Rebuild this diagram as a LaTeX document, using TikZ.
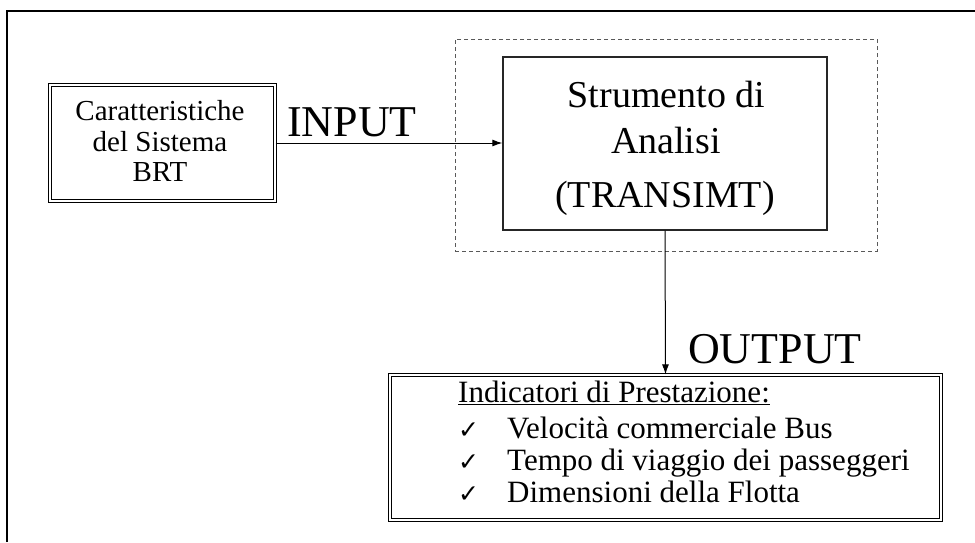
\documentclass[tikz,border=0pt]{standalone}
\usepackage{fontspec}
\setmainfont{Liberation Serif}
\newfontfamily\symfont{DejaVu Sans}
\usetikzlibrary{arrows.meta}
\tikzset{
  dbox/.style={draw=black, double=white, double distance=2pt, line width=0.8pt, inner sep=0pt},
  toolbox/.style={draw=black!85, line width=1.3pt, inner sep=0pt},
  dashbox/.style={draw=black!65, line width=0.9pt, dash pattern=on 4pt off 3pt, inner sep=0pt},
  conn/.style={line width=1pt, -{Latex[length=10pt,width=7pt]}},
  txt/.style={inner sep=0pt, anchor=base},
  txtw/.style={inner sep=0pt, anchor=base west},
  fsmall/.style={font=\fontsize{29}{30}\selectfont},
  fmid/.style={font=\fontsize{38}{40}\selectfont},
  fbig/.style={font=\fontsize{44}{46}\selectfont},
  find/.style={font=\fontsize{31}{33}\selectfont},
  fchk/.style={font=\symfont\fontsize{25}{26}\selectfont},
}
\begin{document}
\begin{tikzpicture}[x=1pt,y=-1pt]
\useasboundingbox (0,0) rectangle (975,542);
% outer frame (cut by page)
\draw[line width=2.2pt] (7,542) -- (7,11) -- (975,11);

% boxes
\node[dbox, minimum width=225.4pt, minimum height=116.4pt] (sys) at (162.5,143) {};
\node[dashbox, minimum width=422pt, minimum height=212pt] (dash) at (666,145) {};
\node[toolbox, minimum width=324pt, minimum height=173pt] (tool) at (665,143.5) {};
\node[dbox, minimum width=551.4pt, minimum height=145.4pt] (out) at (665.5,447.5) {};

% texts in left box
\node[txt, fsmall] (s1) at (160,120) {Caratteristiche};
\node[txt, fsmall] (s2) at (160,151) {del Sistema};
\node[txt, fsmall] (s3) at (160,181) {BRT};

% texts in tool box
\node[txt, fmid] (t1) at (666.5,107) {Strumento di};
\node[txt, fmid] (t2) at (666,153) {Analisi};
\node[txt, fmid] (t3) at (665,207) {(TRANSIMT)};

% labels
\node[txtw, fbig] (inlab) at (287,136) {INPUT};
\node[txtw, fbig] (outlab) at (688,363) {OUTPUT};

% output box texts
\node[txtw, find] (o0) at (458,402) {\underline{Indicatori di Prestazione:}};
\node[txtw, fchk] (c1) at (458,438) {✓};
\node[txtw, fchk] (c2) at (458,470) {✓};
\node[txtw, fchk] (c3) at (458,502) {✓};
\node[txtw, find] (o1) at (507,438) {Velocità commerciale Bus};
\node[txtw, find] (o2) at (507,470) {Tempo di viaggio dei passeggeri};
\node[txtw, find] (o3) at (507,502) {Dimensioni della Flotta};

% connectors
\draw[conn] (sys.east) -- (sys.east -| tool.west);
\draw[conn] (tool.south) -- (out.north);
\end{tikzpicture}
\end{document}
